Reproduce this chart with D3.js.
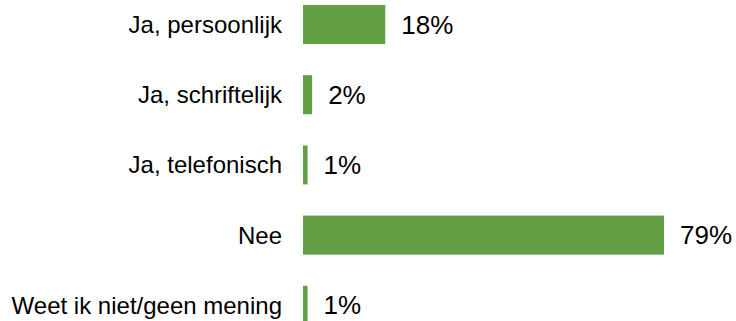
<!DOCTYPE html>
<html>
<head>
<meta charset="utf-8">
<script src="https://cdn.jsdelivr.net/npm/d3@7"></script>
<style>
  html, body { margin: 0; padding: 0; background: #ffffff; }
  svg { display: block; }
</style>
</head>
<body>
<svg id="chart" width="736" height="321"></svg>
<script>
// Answer categories and their shares (percent)
const categories = [
  "Ja, persoonlijk",
  "Ja, schriftelijk",
  "Ja, telefonisch",
  "Nee",
  "Weet ik niet/geen mening"
];
const values = [18, 2, 1, 79, 1];
const valueLabels = ["18%", "2%", "1%", "79%", "1%"];

const width = 736, height = 321;
const barLeft = 303;
const barColor = "#63a045";
const font = "'Liberation Sans', Arial, Helvetica, sans-serif";

const svg = d3.select("#chart");

const x = d3.scaleLinear()
  .domain([0, 79])
  .range([barLeft, barLeft + 361]);

const y = d3.scaleBand()
  .domain(categories)
  .range([-10.6, 340.4])
  .paddingInner(0.444)
  .paddingOuter(0.222);

const rows = categories.map((c, i) => ({ cat: c, v: values[i], label: valueLabels[i] }));

// Bars
svg.append("g")
  .selectAll("rect")
  .data(rows)
  .join("rect")
  .attr("x", x(0))
  .attr("y", d => y(d.cat))
  .attr("width", d => x(d.v) - x(0))
  .attr("height", y.bandwidth())
  .attr("fill", barColor);

// Category labels, right-aligned before the bars
svg.append("g")
  .selectAll("text")
  .data(rows)
  .join("text")
  .attr("x", 282)
  .attr("y", d => y(d.cat) + y.bandwidth() / 2)
  .attr("text-anchor", "end")
  .attr("dominant-baseline", "central")
  .attr("font-family", font)
  .attr("font-size", 24)
  .attr("fill", "#000")
  .text(d => d.cat);

// Value labels at the end of each bar
svg.append("g")
  .selectAll("text")
  .data(rows)
  .join("text")
  .attr("x", d => x(d.v) + 16)
  .attr("y", d => y(d.cat) + y.bandwidth() / 2)
  .attr("dominant-baseline", "central")
  .attr("font-family", font)
  .attr("font-size", 26)
  .attr("fill", "#000")
  .text(d => d.label);
</script>
</body>
</html>
